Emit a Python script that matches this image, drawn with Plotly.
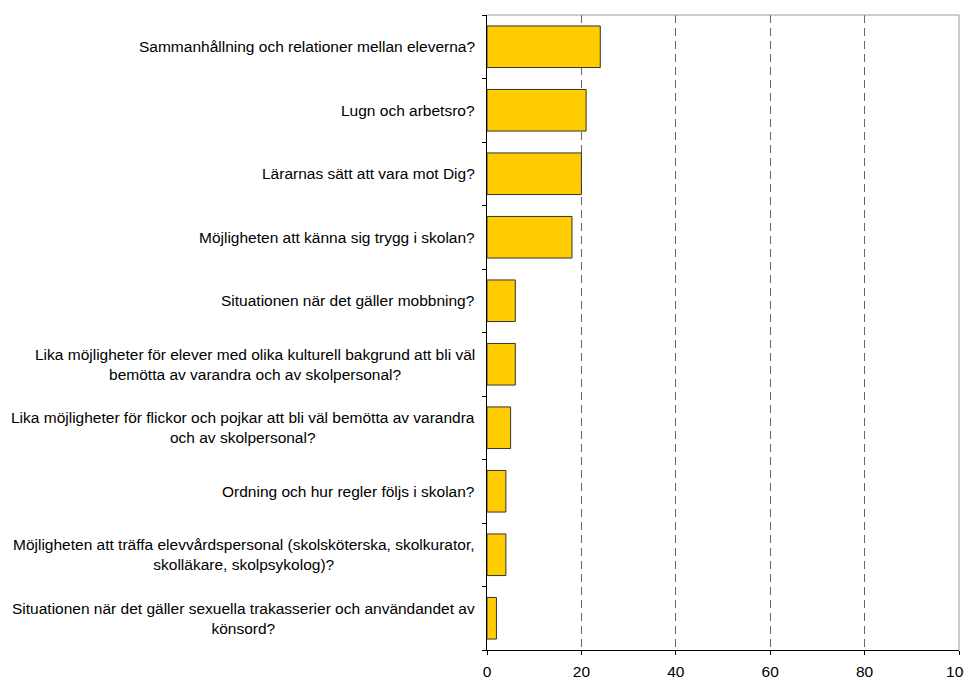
import plotly.graph_objects as go

categories = [
    "Sammanhållning och relationer mellan eleverna?",
    "Lugn och arbetsro?",
    "Lärarnas sätt att vara mot Dig?",
    "Möjligheten att känna sig trygg i skolan?",
    "Situationen när det gäller mobbning?",
    "Lika möjligheter för elever med olika kulturell bakgrund att bli väl<br>bemötta av varandra och av skolpersonal?",
    "Lika möjligheter för flickor och pojkar att bli väl bemötta av varandra<br>och av skolpersonal?",
    "Ordning och hur regler följs i skolan?",
    "Möjligheten att träffa elevvårdspersonal (skolsköterska, skolkurator,<br>skolläkare, skolpsykolog)?",
    "Situationen när det gäller sexuella trakasserier och användandet av<br>könsord?",
]
values = [24, 21, 20, 18, 6, 6, 5, 4, 4, 2]
x_ticks = [0, 20, 40, 60, 80, 100]

FONT = "Liberation Sans, Arial, sans-serif"
FONT_SIZE = 15.5

fig = go.Figure(go.Bar(
    x=values,
    y=list(range(len(categories))),
    orientation="h",
    marker=dict(color="#FFCC00", line=dict(color="#333333", width=1)),
    width=0.655,
))

# category labels as annotations so wrapped lines are centred like the original
annotations = [
    dict(x=0, y=i, xref="paper", yref="y", text=label,
         xanchor="right", align="center", showarrow=False, xshift=-10)
    for i, label in enumerate(categories)
]

# page body has an 8px margin, so margins are offset to land where the reference is
fig.update_layout(
    width=972, height=677,
    margin=dict(l=479, r=21, t=7, b=35),
    paper_bgcolor="white", plot_bgcolor="white",
    font=dict(family=FONT, size=FONT_SIZE, color="black"),
    showlegend=False,
    annotations=annotations,
    shapes=[
        dict(type="line", xref="paper", yref="paper", x0=0, x1=1, y0=1, y1=1,
             line=dict(color="#999999", width=1)),
        dict(type="line", xref="paper", yref="paper", x0=1, x1=1, y0=0, y1=1,
             line=dict(color="#999999", width=1)),
    ],
    xaxis=dict(
        range=[0, 100], tickvals=x_ticks, showgrid=True,
        gridcolor="#666666", griddash="8px,5px", gridwidth=1,
        showline=True, linecolor="black", linewidth=1,
        ticks="outside", ticklen=4, tickcolor="black",
        ticklabelstandoff=3, ticklabeloverflow="allow",
        automargin=False, zeroline=False, fixedrange=True,
    ),
    yaxis=dict(
        type="category", autorange="reversed",
        tickvals=list(range(len(categories))),
        showticklabels=False, tickson="boundaries",
        ticks="outside", ticklen=4, tickcolor="black",
        showline=True, linecolor="black", linewidth=1,
        showgrid=False, zeroline=False, automargin=False,
    ),
)

fig.write_html("out.html")
